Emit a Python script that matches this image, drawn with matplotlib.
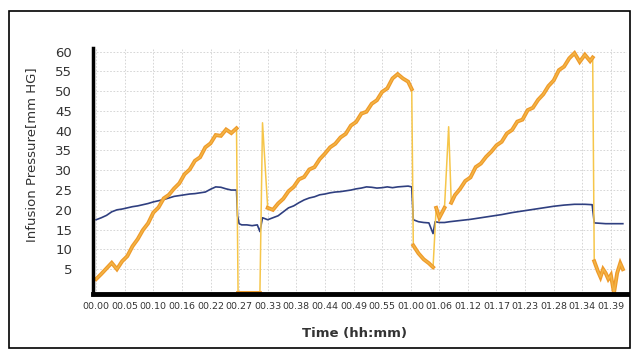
import matplotlib
matplotlib.use("Agg")
import matplotlib.pyplot as plt
from matplotlib.patches import Rectangle
import numpy as np

# tick labels on the time axis (hh.mm), evenly spaced ~5.5 min apart
time_labels = ["00.00", "00.05", "00.10", "00.16", "00.22", "00.27", "00.33",
               "00.38", "00.44", "00.49", "00.55", "01.00", "01.06", "01.12",
               "01.17", "01.23", "01.28", "01.34", "01.39"]
tick_step = 5.5
y_ticks = [5, 10, 15, 20, 25, 30, 35, 40, 45, 50, 55, 60]

# infusion pressure (orange), time in minutes
orange_t = [0, 1, 2, 3, 4, 5, 6, 7, 8, 9, 10, 11, 12, 13, 14, 15, 16, 17, 18,
            19, 20, 21, 22, 23, 24, 25, 26, 27,
            27.3, 28.5, 30, 31.5,
            32, 33, 34, 35, 36, 37, 38, 39, 40, 41, 42, 43, 44, 45, 46, 47,
            48, 49, 50, 51, 52, 53, 54, 55, 56, 57, 58, 59, 60, 60.7,
            61, 62, 63, 64, 64.8, 65.4, 66, 67, 67.8,
            68.3, 69, 70, 71, 72, 73, 74, 75, 76, 77, 78, 79, 80, 81, 82, 83,
            84, 85, 86, 87, 88, 89, 90, 91, 92, 93, 94, 95, 95.5,
            95.8, 96.5, 97, 97.5, 98, 98.5, 99, 99.6, 100.2, 100.8, 101.3]
orange_v = [2.5, 3.8, 5.2, 6.6, 5.0, 7.0, 8.3, 10.8, 12.6, 14.9, 16.6, 19.3,
            20.6, 22.9, 23.8, 25.4, 26.7, 29.0, 30.2, 32.4, 33.3, 35.8, 36.8,
            38.9, 38.7, 40.3, 39.4, 40.6,
            -1.0, -1.0, -1.0, -1.0,
            42.0, 20.5, 20.0, 21.6, 22.8, 24.7, 25.8, 27.7, 28.3, 30.2, 30.8,
            32.8, 34.2, 35.8, 36.7, 38.3, 39.2, 41.3, 42.2, 44.3, 44.8, 46.8,
            47.7, 49.8, 50.7, 53.2, 54.3, 53.2, 52.4, 50.5,
            11.0, 9.0, 7.5, 6.5, 5.5, 20.5, 18.0, 20.5, 41.0,
            21.8, 23.7, 25.3, 27.3, 28.2, 30.8, 31.7, 33.4, 34.7, 36.3, 37.2,
            39.3, 40.2, 42.3, 42.8, 45.2, 45.8, 47.8, 49.2, 51.3, 52.7, 55.3,
            56.2, 58.3, 59.6, 57.4, 59.2, 57.6, 58.5,
            7.0, 4.5, 3.0, 5.0, 4.0, 2.5, 3.5, -1.0, 4.0, 6.5, 5.0]

# second pressure trace (blue)
blue_t = [0, 1, 2, 3, 4, 5, 6, 7, 8, 9, 10, 11, 12, 13, 14, 15, 16, 17, 18,
          19, 20, 21, 22, 23, 24, 25, 26, 27,
          27.2, 27.5, 28, 29, 30, 31, 31.5, 32, 33, 34, 35, 36, 37, 38, 39,
          40, 41, 42, 43, 44, 45, 46, 47, 48, 49, 50, 51, 52, 53, 54, 55, 56,
          57, 58, 59, 60, 60.7,
          61, 62, 63, 64, 64.8, 65.2, 66, 67, 68, 70, 72, 74, 76, 78, 80, 82,
          84, 86, 88, 90, 92, 94, 95.4,
          95.8, 98, 101.3]
blue_v = [17.5, 18.0, 18.6, 19.5, 20.0, 20.2, 20.5, 20.8, 21.0, 21.3, 21.6,
          22.0, 22.3, 22.6, 23.0, 23.4, 23.6, 23.8, 24.0, 24.1, 24.3, 24.5,
          25.2, 25.8, 25.7, 25.3, 25.0, 25.0,
          18.5, 16.5, 16.2, 16.2, 16.0, 16.2, 14.5, 18.0, 17.5, 18.0, 18.5,
          19.5, 20.5, 21.0, 21.8, 22.5, 23.0, 23.3, 23.8, 24.0, 24.3, 24.5,
          24.6, 24.8, 25.0, 25.3, 25.5, 25.8, 25.7, 25.5, 25.6, 25.8, 25.6,
          25.8, 25.9, 26.0, 25.8,
          17.5, 17.0, 16.8, 16.7, 14.0, 17.0, 16.8, 16.8, 17.0, 17.3, 17.6,
          18.0, 18.4, 18.8, 19.3, 19.7, 20.1, 20.5, 20.9, 21.2, 21.4, 21.4,
          21.3,
          16.7, 16.5, 16.5]

fig = plt.figure(figsize=(6.34, 3.5), dpi=100)
ax = fig.add_axes([93 / 634, 1 - 294 / 350, 534 / 634, 246 / 350])

# outer frame around the whole picture
fig.patches.append(Rectangle((9 / 634, 2 / 350), 621 / 634, 337 / 350,
                             transform=fig.transFigure, fill=False,
                             edgecolor="black", linewidth=1.2))

# lines sit under the spines (zorder 2.5) so the bottom bit hides under the axis
ax.plot(blue_t, blue_v, color="#2f3f80", linewidth=1.2, zorder=2.1)

# thin pale line for the whole trace, the big jumps stay thin
ax.plot(orange_t, orange_v, color="#f6c64a", linewidth=1.1, zorder=2.2)
# thick noisy band only where the trace moves slowly (break at the jumps)
ot = np.array(orange_t, dtype=float)
ov = np.array(orange_v, dtype=float)
jumps = np.where(np.abs(np.diff(ov)) > 8)[0]
ot_thick = np.insert(ot, jumps + 1, np.nan)
ov_thick = np.insert(ov, jumps + 1, np.nan)
ax.plot(ot_thick, ov_thick, color="#ee9a2a", linewidth=2.8, zorder=2.3,
        solid_joinstyle="miter")
ax.plot(ot_thick, ov_thick, color="#f4b445", linewidth=1.1, zorder=2.4)

ticks = np.arange(len(time_labels)) * tick_step
ax.set_xticks(ticks)
ax.set_xticklabels(time_labels, fontsize=6.8, color="#333333")
ax.set_yticks(y_ticks)
ax.set_yticklabels([str(v) for v in y_ticks], fontsize=9.5, color="#333333")
ax.set_xlim(-0.6, 102.1)
ax.set_ylim(-1.27, 60.9)
ax.tick_params(axis="y", length=0, pad=15)
ax.tick_params(axis="x", length=0, pad=5.5)

ax.grid(True, color="#d0d0d0", linestyle=(0, (2, 2)), linewidth=0.6)
ax.set_axisbelow(True)
for side in ["top", "right"]:
    ax.spines[side].set_visible(False)
ax.spines["left"].set_linewidth(2.5)
ax.spines["bottom"].set_linewidth(3.5)

fig.text(32 / 634, 1 - 155 / 350, "Infusion Pressure[mm HG]", rotation=90,
         ha="center", va="center", fontsize=9.5, color="#333333")
fig.text(355 / 634, 1 - 333 / 350, "Time (hh:mm)", ha="center",
         va="center", fontsize=9.5, color="#333333", fontweight="bold")

fig.savefig("out.png", dpi=100)
